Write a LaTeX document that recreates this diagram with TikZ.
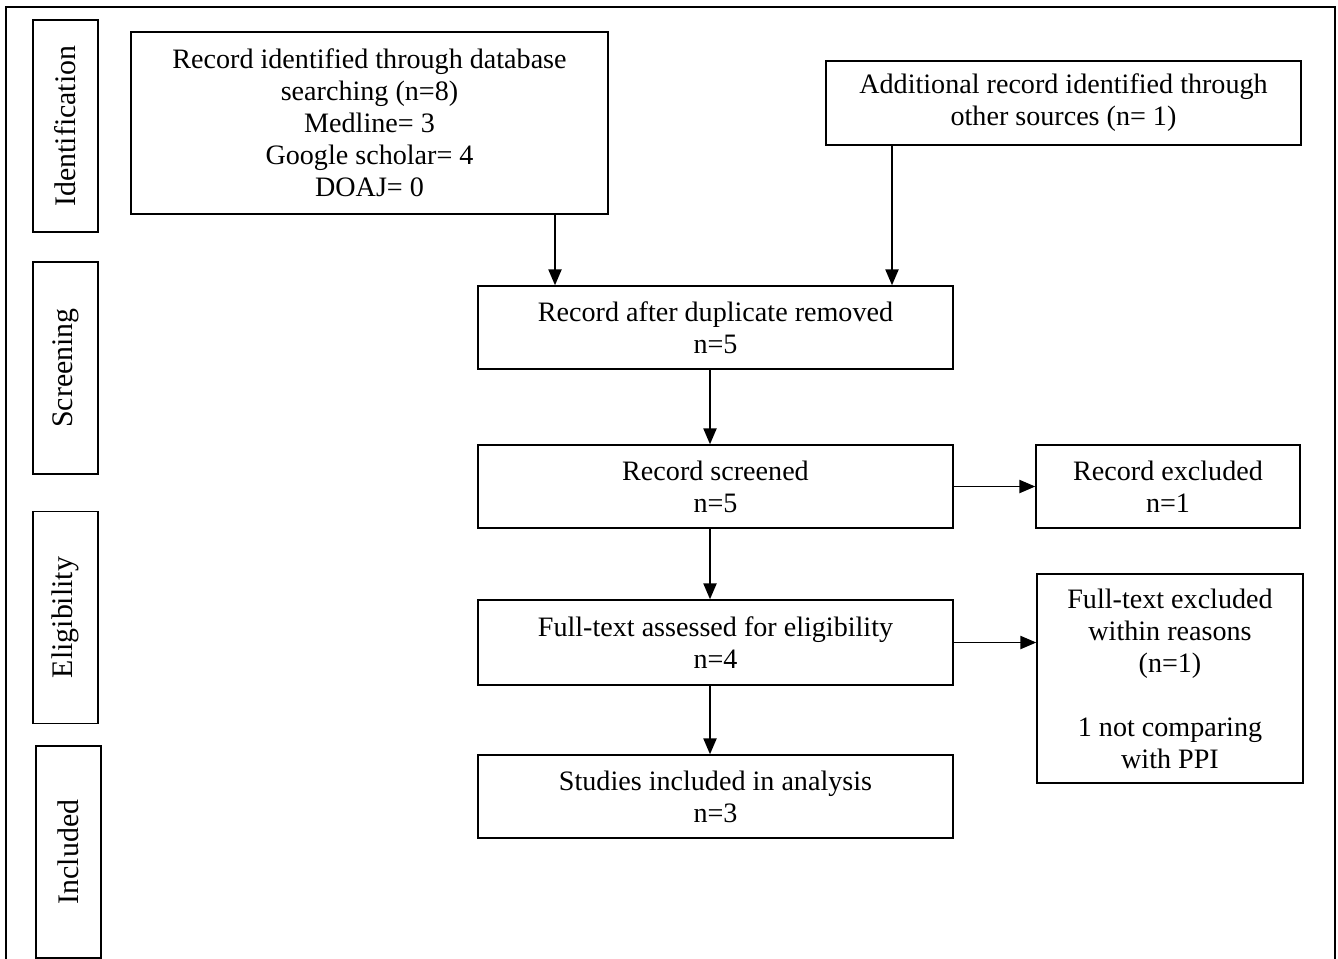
\documentclass[tikz,border=0pt]{standalone}
\usepackage{fontspec}
\setmainfont{Liberation Serif}
\usetikzlibrary{arrows.meta}

\tikzset{
    box/.style={draw, line width=0.9pt, align=center, inner sep=2pt,
        font=\fontsize{16}{18.2}\selectfont},
    phase/.style={draw, line width=0.9pt, rotate=90, minimum width=4.24cm,
        minimum height=1.3cm, font=\fontsize{17}{19}\selectfont},
    arr/.style={-{Triangle[length=9pt,width=7.5pt]}, line width=0.8pt}
}

\begin{document}
\begin{tikzpicture}[x=0.02cm, y=-0.02cm]

    \useasboundingbox (0,0) rectangle (1338,958);

    % Frame
    \draw[line width=1.2pt] (6,960) -- (6,7) -- (1335,7) -- (1335,960);

    %% Phases on the left
    \node[phase] (ident) at (65.5,126) {Identification};
    \node[phase] (screen) at (65.5,368) {Screening};
    \node[phase] (elig) at (65.5,617.5) {Eligibility};
    \node[phase] (incl) at (68.5,852) {Included};

    %% Identification
    % Database search
    \node[box, minimum width=9.54cm, minimum height=3.64cm] (db) at (369.5,123)
        {Record identified through database\\ searching (n=8)\\ Medline= 3\\ Google scholar= 4\\ DOAJ= 0};
    % Other sources
    \node[box, minimum width=9.5cm, minimum height=1.68cm] (other) at (1063.5,103)
        {Additional record identified through\\ other sources (n= 1)};

    %% Screening
    \node[box, minimum width=9.5cm, minimum height=1.66cm] (dup) at (715.5,327.5)
        {Record after duplicate removed\\ n=5};
    \node[box, minimum width=9.5cm, minimum height=1.66cm] (scr) at (715.5,486.5)
        {Record screened\\ n=5};
    \node[box, minimum width=5.28cm, minimum height=1.66cm] (excl) at (1168,486.5)
        {Record excluded\\ n=1};

    %% Eligibility
    \node[box, minimum width=9.5cm, minimum height=1.7cm] (full) at (715.5,642.5)
        {Full-text assessed for eligibility\\ n=4};
    \node[box, minimum width=5.32cm, minimum height=4.18cm] (fullexcl) at (1170,678.5)
        {Full-text excluded\\ within reasons\\ (n=1)\\[18.2pt] 1 not comparing\\ with PPI};

    %% Included
    \node[box, minimum width=9.5cm, minimum height=1.66cm] (study) at (715.5,796.5)
        {Studies included in analysis\\ n=3};

    % Arrows
    \coordinate (dbx) at (555,0);
    \coordinate (otherx) at (892,0);
    \coordinate (midx) at (710,0);
    \draw[arr] (db.south -| dbx) -- (dup.north -| dbx);
    \draw[arr] (other.south -| otherx) -- (dup.north -| otherx);
    \draw[arr] (dup.south -| midx) -- (scr.north -| midx);
    \draw[arr] (scr.south -| midx) -- (full.north -| midx);
    \draw[arr] (full.south -| midx) -- (study.north -| midx);
    \draw[arr] (scr) -- (excl);
    \draw[arr] (full.east) -- (full.east -| fullexcl.west);

\end{tikzpicture}
\end{document}
